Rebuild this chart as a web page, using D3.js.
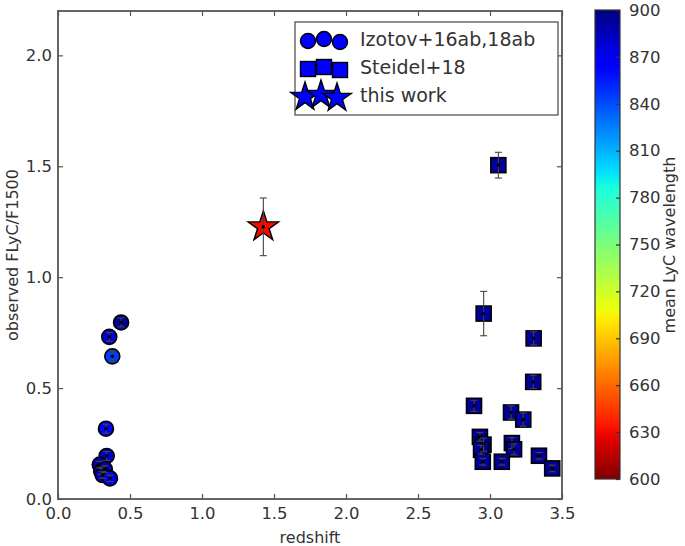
<!DOCTYPE html>
<html><head><meta charset="utf-8">
<script src="https://cdn.jsdelivr.net/npm/d3@7"></script>
<style>
html,body{margin:0;padding:0;background:#fff;}
text{font-family:"DejaVu Sans",sans-serif;}
</style></head>
<body>
<svg id="chart" width="685" height="546"></svg>
<script>
// ---- data ----
const izotovZ   = [0.438, 0.356, 0.377, 0.333, 0.338, 0.290, 0.300, 0.325, 0.310, 0.361];
const izotovF   = [0.796, 0.731, 0.643, 0.317, 0.194, 0.155, 0.125, 0.135, 0.108, 0.093];
const izotovErr = [0.020, 0.020, 0.025, 0.020, 0.020, 0.015, 0.015, 0.015, 0.015, 0.015];
const izotovLam = [893, 876, 845, 862, 880, 886, 888, 884, 887, 870];

const steidelZ   = [3.058, 2.956, 3.303, 3.300, 2.889, 3.146, 3.231, 2.930, 2.955, 2.938, 3.152, 3.167, 2.950, 3.082, 3.340, 3.432];
const steidelF   = [1.505, 0.836, 0.724, 0.528, 0.420, 0.390, 0.358, 0.280, 0.245, 0.222, 0.252, 0.224, 0.168, 0.168, 0.195, 0.138];
const steidelErr = [0.058, 0.100, 0.030, 0.030, 0.025, 0.030, 0.030, 0.020, 0.030, 0.020, 0.025, 0.025, 0.015, 0.015, 0.015, 0.015];
const steidelLam = [893, 892, 893, 893, 893, 892, 893, 893, 892, 893, 893, 892, 893, 893, 893, 893];

const thisZ   = [1.426];
const thisF   = [1.227];
const thisErr = [0.130];
const thisLam = [630];

const xTicks = [0.0, 0.5, 1.0, 1.5, 2.0, 2.5, 3.0, 3.5];
const yTicks = [0.0, 0.5, 1.0, 1.5, 2.0];
const cbTicks = [600, 630, 660, 690, 720, 750, 780, 810, 840, 870, 900];
const legendLabels = ["Izotov+16ab,18ab", "Steidel+18", "this work"];

// ---- jet colormap (matplotlib segment data) ----
const jetSeg = {
  r: [[0,0],[0.35,0],[0.66,1],[0.89,1],[1,0.5]],
  g: [[0,0],[0.125,0],[0.375,1],[0.64,1],[0.91,0],[1,0]],
  b: [[0,0.5],[0.11,1],[0.34,1],[0.65,0],[1,0]]
};
function seg(s, t){
  for(let i=1;i<s.length;i++){
    if(t<=s[i][0]){const a=s[i-1],b=s[i];return a[1]+(b[1]-a[1])*(t-a[0])/(b[0]-a[0]);}
  }
  return s[s.length-1][1];
}
function jet(t){
  t=Math.max(0,Math.min(1,t));
  return d3.rgb(255*seg(jetSeg.r,t),255*seg(jetSeg.g,t),255*seg(jetSeg.b,t)).toString();
}
const lamToT = d3.scaleLinear().domain([900,600]).range([0,1]);
const colorOf = l => jet(lamToT(l));

// ---- layout ----
const svg = d3.select("#chart");
const x = d3.scaleLinear().domain([0,3.5]).range([58,562]);
const y = d3.scaleLinear().domain([0,2.2]).range([499,11]);
const axisColor = "#555", textColor = "#333";

const plot = svg.append("g");

function starPath(R){
  const r = R*0.381966; let p=[];
  for(let i=0;i<10;i++){
    const rad = i%2===0?R:r; const a = -Math.PI/2 + i*Math.PI/5;
    p.push([rad*Math.cos(a), rad*Math.sin(a)]);
  }
  return "M"+p.map(d=>d[0].toFixed(2)+","+d[1].toFixed(2)).join("L")+"Z";
}

function drawSeries(zs, fs, errs, lams, shape){
  const g = plot.append("g");
  zs.forEach((z,i)=>{
    const cx = x(z), cy = y(fs[i]), c = colorOf(lams[i]);
    if(shape==="circle"){
      g.append("circle").attr("cx",cx).attr("cy",cy).attr("r",7.5)
        .attr("fill",c).attr("stroke","#000").attr("stroke-width",1.6);
    } else if(shape==="square"){
      g.append("rect").attr("x",cx-7.5).attr("y",cy-7.5).attr("width",15).attr("height",15)
        .attr("fill",c).attr("stroke","#000").attr("stroke-width",1.6);
    } else {
      g.append("path").attr("d",starPath(16)).attr("transform",`translate(${cx},${cy})`)
        .attr("fill",c).attr("stroke","#000").attr("stroke-width",1.4).attr("stroke-linejoin","miter");
    }
  });
  zs.forEach((z,i)=>{
    const cx = x(z), y1 = y(fs[i]+errs[i]), y0 = y(fs[i]-errs[i]);
    g.append("line").attr("x1",cx).attr("x2",cx).attr("y1",y1).attr("y2",y0)
      .attr("stroke","#444").attr("stroke-width",1.1);
    [y1,y0].forEach(yy=>g.append("line").attr("x1",cx-3.5).attr("x2",cx+3.5).attr("y1",yy).attr("y2",yy)
      .attr("stroke","#444").attr("stroke-width",1.1));
    g.append("circle").attr("cx",cx).attr("cy",y(fs[i])).attr("r",1.8).attr("fill","#000");
  });
}
drawSeries(izotovZ, izotovF, izotovErr, izotovLam, "circle");
drawSeries(steidelZ, steidelF, steidelErr, steidelLam, "square");
drawSeries(thisZ, thisF, thisErr, thisLam, "star");

// ---- axes (inward ticks on all sides) ----
function styleAxis(g){
  g.select(".domain").remove();
  g.selectAll(".tick line").attr("stroke",axisColor).attr("stroke-width",1.2);
  g.selectAll(".tick text").attr("fill",textColor).attr("font-size","16.5px");
}
const fmt = d3.format(".1f");
const gx = svg.append("g").attr("transform","translate(0,499)")
  .call(d3.axisBottom(x).tickValues(xTicks).tickFormat(fmt).tickSizeInner(-5).tickSizeOuter(0).tickPadding(8));
styleAxis(gx);
const gxt = svg.append("g").attr("transform","translate(0,11)")
  .call(d3.axisTop(x).tickValues(xTicks).tickFormat("").tickSizeInner(-5).tickSizeOuter(0));
styleAxis(gxt);
const gy = svg.append("g").attr("transform","translate(58,0)")
  .call(d3.axisLeft(y).tickValues(yTicks).tickFormat(fmt).tickSizeInner(-5).tickSizeOuter(0).tickPadding(6));
styleAxis(gy);
const gyr = svg.append("g").attr("transform","translate(562,0)")
  .call(d3.axisRight(y).tickValues(yTicks).tickFormat("").tickSizeInner(-5).tickSizeOuter(0));
styleAxis(gyr);
svg.append("rect").attr("x",58).attr("y",11).attr("width",504).attr("height",488)
  .attr("fill","none").attr("stroke",axisColor).attr("stroke-width",1.8);

svg.append("text").attr("x",310).attr("y",543).attr("text-anchor","middle")
  .attr("fill",textColor).attr("font-size","16px").text("redshift");
svg.append("text").attr("transform","translate(18,255) rotate(-90)").attr("text-anchor","middle")
  .attr("fill",textColor).attr("font-size","16px").text("observed FLyC/F1500");

// ---- legend ----
const lg = svg.append("g");
lg.append("rect").attr("x",295).attr("y",22).attr("width",263).attr("height",93)
  .attr("fill","#fff").attr("stroke","#444").attr("stroke-width",1.2);
const rowsY = [39, 67, 95];
const mx = [308, 324, 340];
const myOff = [2, 0, 3];
const shapes = ["circle","square","star"];
shapes.forEach((s,ri)=>{
  mx.forEach((xx,k)=>{
    const cy = rowsY[ri] + myOff[k];
    if(s==="circle") lg.append("circle").attr("cx",xx).attr("cy",cy).attr("r",7.5)
      .attr("fill","#0000ff").attr("stroke","#000").attr("stroke-width",1.4);
    else if(s==="square") lg.append("rect").attr("x",xx-7.5).attr("y",cy-7.5).attr("width",15).attr("height",15)
      .attr("fill","#0000ff").attr("stroke","#000").attr("stroke-width",1.4);
    else lg.append("path").attr("d",starPath(15)).attr("transform",`translate(${xx-3},${cy})`)
      .attr("fill","#0000ff").attr("stroke","#000").attr("stroke-width",1.4);
  });
  lg.append("text").attr("x",360).attr("y",rowsY[ri]).attr("dy","0.36em")
    .attr("fill",textColor).attr("font-size","19px").text(legendLabels[ri]);
});

// ---- colorbar ----
const cbX = 595, cbW = 25;
const cbY = d3.scaleLinear().domain([600,900]).range([479,10]);
const defs = svg.append("defs");
const grad = defs.append("linearGradient").attr("id","jetgrad")
  .attr("x1","0").attr("y1","1").attr("x2","0").attr("y2","0");
d3.range(0,1.0001,0.02).forEach(f=>{
  grad.append("stop").attr("offset",f).attr("stop-color",colorOf(600+300*f));
});
svg.append("rect").attr("x",cbX).attr("y",cbY(900)).attr("width",cbW).attr("height",cbY(600)-cbY(900))
  .attr("fill","url(#jetgrad)").attr("stroke","#333").attr("stroke-width",1.2);
const gcb = svg.append("g").attr("transform",`translate(${cbX+cbW},0)`)
  .call(d3.axisRight(cbY).tickValues(cbTicks).tickFormat(d3.format("d")).tickSizeInner(-4).tickSizeOuter(0).tickPadding(9));
styleAxis(gcb);
gcb.selectAll(".tick line").attr("stroke","#333");
svg.append("text").attr("transform","translate(675,245) rotate(-90)").attr("text-anchor","middle")
  .attr("fill",textColor).attr("font-size","16px").text("mean LyC wavelength");
</script>
</body></html>
